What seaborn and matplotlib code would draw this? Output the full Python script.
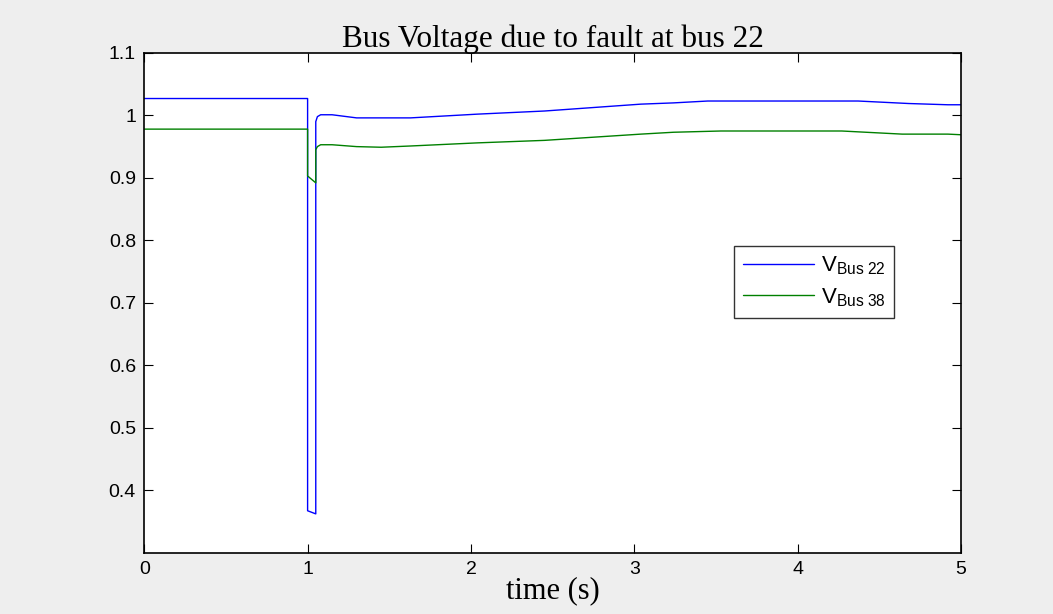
import numpy as np
import pandas as pd
import matplotlib
matplotlib.use("Agg")
import matplotlib.pyplot as plt
import seaborn as sns

# ---- data ----
t_bus22 = [0, 1.0, 1.0, 1.05, 1.05, 1.06, 1.08, 1.15, 1.3, 1.63, 2.04, 2.45,
           3.04, 3.24, 3.45, 4.37, 4.68, 4.92, 5.0]
v_bus22 = [1.027, 1.027, 0.367, 0.362, 0.990, 0.998, 1.001, 1.001, 0.996, 0.996,
           1.002, 1.007, 1.018, 1.020, 1.023, 1.023, 1.019, 1.017, 1.017]

t_bus38 = [0, 1.0, 1.0, 1.05, 1.05, 1.06, 1.08, 1.15, 1.3, 1.45, 1.63, 2.04, 2.45,
           3.04, 3.24, 3.53, 4.27, 4.64, 4.92, 5.0]
v_bus38 = [0.978, 0.978, 0.903, 0.892, 0.945, 0.950, 0.953, 0.953, 0.950, 0.949,
           0.951, 0.956, 0.960, 0.970, 0.973, 0.975, 0.975, 0.970, 0.970, 0.969]

series_labels = [r"V$_{\mathrm{Bus\ 22}}$", r"V$_{\mathrm{Bus\ 38}}$"]
x_ticks = [0, 1, 2, 3, 4, 5]
y_ticks = [0.4, 0.5, 0.6, 0.7, 0.8, 0.9, 1.0, 1.1]
y_tick_labels = ["0.4", "0.5", "0.6", "0.7", "0.8", "0.9", "1", "1.1"]

title = "Bus Voltage due to fault at bus 22"
xlabel = "time (s)"

# ---- build frame ----
df = pd.concat([
    pd.DataFrame({"t": t_bus22, "v": v_bus22, "series": series_labels[0]}),
    pd.DataFrame({"t": t_bus38, "v": v_bus38, "series": series_labels[1]}),
], ignore_index=True)

sns.set_style("ticks")
plt.rcParams["font.family"] = ["Liberation Sans", "DejaVu Sans"]
plt.rcParams["mathtext.fontset"] = "custom"
plt.rcParams["mathtext.rm"] = "Liberation Sans"
plt.rcParams["mathtext.it"] = "Liberation Sans"
plt.rcParams["text.color"] = "black"
plt.rcParams["axes.labelcolor"] = "black"
plt.rcParams["xtick.color"] = "black"
plt.rcParams["ytick.color"] = "black"

fig = plt.figure(figsize=(10.53, 6.14), dpi=100, facecolor="#eeeeee")
ax = fig.add_axes([0.137, 0.100, 0.7756, 0.8138])
ax.set_facecolor("white")

sns.lineplot(data=df, x="t", y="v", hue="series", units="series", estimator=None,
             sort=False, palette=["#0000ff", "#008000"], linewidth=1.0, ax=ax)

ax.set_xlim(0, 5)
ax.set_ylim(0.3, 1.1)
ax.set_xticks(x_ticks)
ax.set_xticklabels([str(v) for v in x_ticks])
ax.set_yticks(y_ticks)
ax.set_yticklabels(y_tick_labels)
ax.tick_params(direction="in", length=6.5, width=0.8, top=True, right=True,
               labelsize=14, colors="black", pad=6)
for s in ax.spines.values():
    s.set_visible(True)
    s.set_color("black")
    s.set_linewidth(1.2)

ax.set_title(title, fontsize=22.5, family=["Liberation Serif"], pad=4, color="black")
ax.set_xlabel(xlabel, fontsize=22, family=["Liberation Serif"], labelpad=-1, color="black")
ax.set_ylabel("")

handles, labels = ax.get_legend_handles_labels()
leg = ax.legend(handles, labels, loc="upper left", bbox_to_anchor=(0.722, 0.614),
                fontsize=16, frameon=True, fancybox=False, edgecolor="black",
                handlelength=3.2, handletextpad=0.3, borderpad=0.4,
                labelspacing=0.4, borderaxespad=0)
leg.get_frame().set_linewidth(1.0)
for txt in leg.get_texts():
    txt.set_color("black")

fig.savefig("out.png", dpi=100, facecolor=fig.get_facecolor())
